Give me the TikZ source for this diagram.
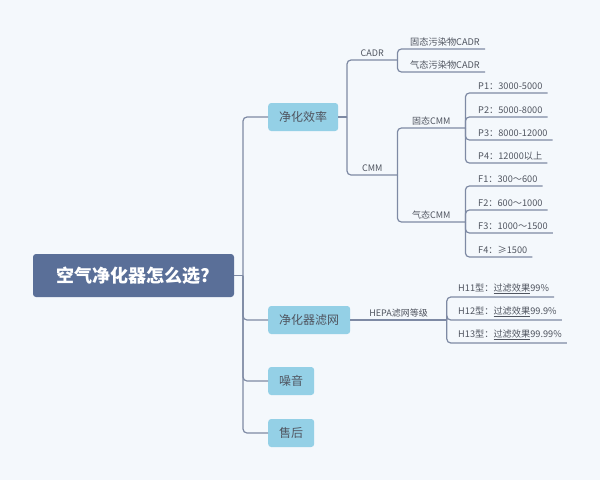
\documentclass[tikz,border=0pt]{standalone}
\usepackage{fontspec}
\setmainfont{Noto Sans CJK SC}
\usetikzlibrary{positioning}
\definecolor{bgc}{HTML}{F4F8FC}
\definecolor{rootc}{HTML}{5A6F98}
\definecolor{topicc}{HTML}{94D0E6}
\definecolor{linec}{HTML}{7E8AA4}
\definecolor{txtc}{HTML}{505560}

\tikzset{
  conn/.style={draw=linec, line width=1.2pt, rounded corners=4pt},
  rootbox/.style={fill=rootc, rounded corners=3pt, text=white, font=\fontsize{18}{18}\selectfont\bfseries, minimum width=201pt, minimum height=43pt},
  topic/.style={fill=topicc, rounded corners=3pt, text=txtc, font=\fontsize{12}{12}\selectfont, minimum height=28pt, inner xsep=11pt, anchor=west},
  branch/.style={anchor=south west, inner xsep=0pt, inner ysep=3pt, text=txtc, font=\fontsize{9}{9}\selectfont},
  leaf/.style={anchor=south west, inner xsep=5pt, inner ysep=3pt, text=txtc, font=\fontsize{9.2}{9.2}\selectfont},
}

\begin{document}
\begin{tikzpicture}[x=1pt,y=-1pt]
\fill[bgc] (0,0) rectangle (600,480);

% root and main topics
\node[rootbox] (root) at (133.5,275.5) {空气净化器怎么选?};
\coordinate (trk) at (243,275.5);
\node[topic] (eff) at (268,117) {净化效率};
\node[topic] (filter) at (268,320) {净化器滤网};
\node[topic] (noise) at (268,381) {噪音};
\node[topic] (after) at (268,433) {售后};
\draw[conn] (root.east) -- (trk);
\foreach \n in {eff,filter,noise,after}
  \draw[conn] (trk) |- (\n.west);

% efficiency
\coordinate (effk) at (347,117);
\draw[conn] (eff.east) -- (effk);
\node[branch, minimum width=50pt] (cadr) at (347,60) {CADR};
\node[branch, minimum width=50pt] (cmm) at (347,175) {CMM};
\draw[conn] (effk) |- (cadr.south east);
\draw[conn] (effk) |- (cmm.south east);

\foreach \n/\y/\t in {gcadr/49/固态污染物CADR, qcadr/72/气态污染物CADR} {
  \node[leaf] (\n) at (405,\y) {\t};
  \draw[conn] (cadr.south east) |- (\n.south east);
}

\node[branch, minimum width=68pt] (gmm) at (397,128) {固态CMM};
\node[branch, minimum width=68pt] (qmm) at (397,222) {气态CMM};
\draw[conn] (cmm.south east) |- (gmm.south east);
\draw[conn] (cmm.south east) |- (qmm.south east);

\foreach \n/\y/\t in {p1/93/{P1：3000-5000}, p2/117/{P2：5000-8000},
                      p3/140/{P3：8000-12000}, p4/163/{P4：12000以上}} {
  \node[leaf] (\n) at (473,\y) {\t};
  \draw[conn] (gmm.south east) |- (\n.south east);
}
\foreach \n/\y/\t in {f1/186/{F1：300～600}, f2/210/{F2：600～1000},
                      f3/233/{F3：1000～1500}, f4/257/{F4：≥1500}} {
  \node[leaf] (\n) at (473,\y) {\t};
  \draw[conn] (qmm.south east) |- (\n.south east);
}

% filter
\node[branch, minimum width=96pt] (hepa) at (filter.east) {HEPA滤网等级};
\draw[conn] (filter.east) -- (hepa.south east);
\foreach \n/\y/\t in {h11/297/{H11型：\underline{过滤效果}99\%}, h12/320/{H12型：\underline{过滤效果}99.9\%},
                      h13/343/{H13型：\underline{过滤效果}99.99\%}} {
  \node[leaf] (\n) at (453,\y) {\t};
  \draw[conn] (hepa.south east) |- (\n.south east);
}
\end{tikzpicture}
\end{document}
